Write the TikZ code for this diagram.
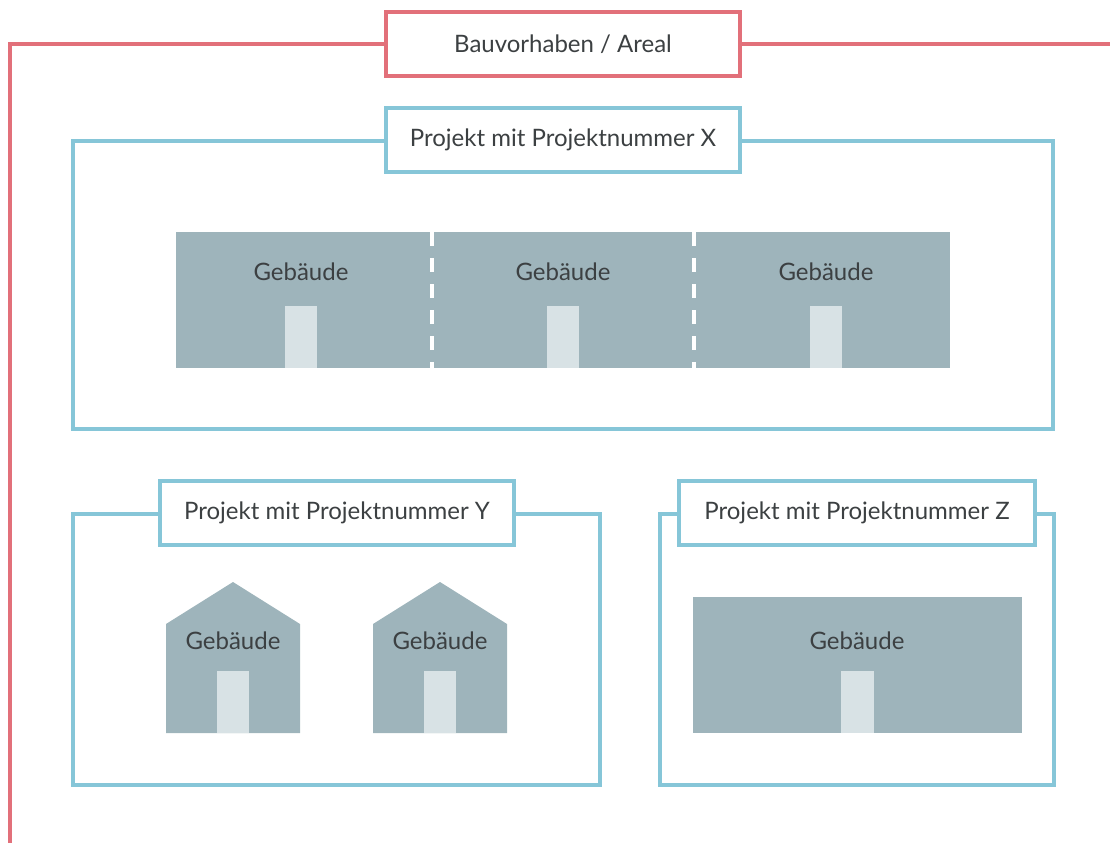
\documentclass[tikz,border=0pt]{standalone}
\usepackage{fontspec}
\setmainfont{Lato}
\definecolor{arealrot}{RGB}{226,112,122}
\definecolor{projektblau}{RGB}{134,198,216}
\definecolor{baugrau}{RGB}{158,180,187}
\definecolor{tuergrau}{RGB}{216,226,229}
\definecolor{schrift}{RGB}{60,64,66}

\begin{document}
\begin{tikzpicture}[x=1pt, y=-1pt,
    titel/.style={draw, line width=4pt, fill=white, minimum width=354pt,
        minimum height=64pt, inner sep=0pt, text=schrift,
        font=\fontsize{24}{28}\selectfont},
    rahmen/.style={line width=4pt},
    bautext/.style={text=schrift, font=\fontsize{24}{28}\selectfont}]
    \useasboundingbox (0,0) rectangle (1110,843);
    %
    % Bauvorhaben
    \draw [rahmen, arealrot] (386,44) -- (10,44) -- (10,843);
    \draw [rahmen, arealrot] (740,44) -- (1110,44);
    \node (areal)[titel, draw=arealrot] at (563,44) {Bauvorhaben / Areal};
    %
    % Projekt X
    \draw [rahmen, projektblau] (386,141) -| (73,429) -| (1053,141) -- (740,141);
    \node (projX)[titel, draw=projektblau] at (563,140) {Projekt mit Projektnummer X};
    \fill [baugrau] (176,232) rectangle (950,368);
    \draw [white, line width=3.5pt, dash pattern=on 14pt off 12pt] (432,232) -- (432,368);
    \draw [white, line width=3.5pt, dash pattern=on 14pt off 12pt] (694,232) -- (694,368);
    \foreach \cx/\n in {301/1, 563/2, 826/3}{
        \fill [tuergrau] (\cx-16,306) rectangle (\cx+16,368);
        \node (gebX\n)[bautext] at (\cx,272) {Gebäude};
    }
    %
    % Projekt Y
    \draw [rahmen, projektblau] (160,514) -| (73,785) -| (600,514) -- (515,514);
    \node (projY)[titel, draw=projektblau] at (337,513) {Projekt mit Projektnummer Y};
    \foreach \cx/\n in {233/1, 440/2}{
        \fill [baugrau] (\cx-67,733) -- (\cx-67,624) -- (\cx,582) -- (\cx+67,624)
            -- (\cx+67,733) -- cycle;
        \fill [tuergrau] (\cx-16,671) rectangle (\cx+16,733);
        \node (gebY\n)[bautext] at (\cx,641) {Gebäude};
    }
    %
    % Projekt Z
    \draw [rahmen, projektblau] (679,514) -| (660,785) -| (1054,514) -- (1035,514);
    \node (projZ)[titel, draw=projektblau, minimum width=356pt] at (857,513) {Projekt mit Projektnummer Z};
    \fill [baugrau] (693,597) rectangle (1022,733);
    \fill [tuergrau] (841,671) rectangle (874,733);
    \node (gebZ)[bautext] at (857,641) {Gebäude};
\end{tikzpicture}
\end{document}
